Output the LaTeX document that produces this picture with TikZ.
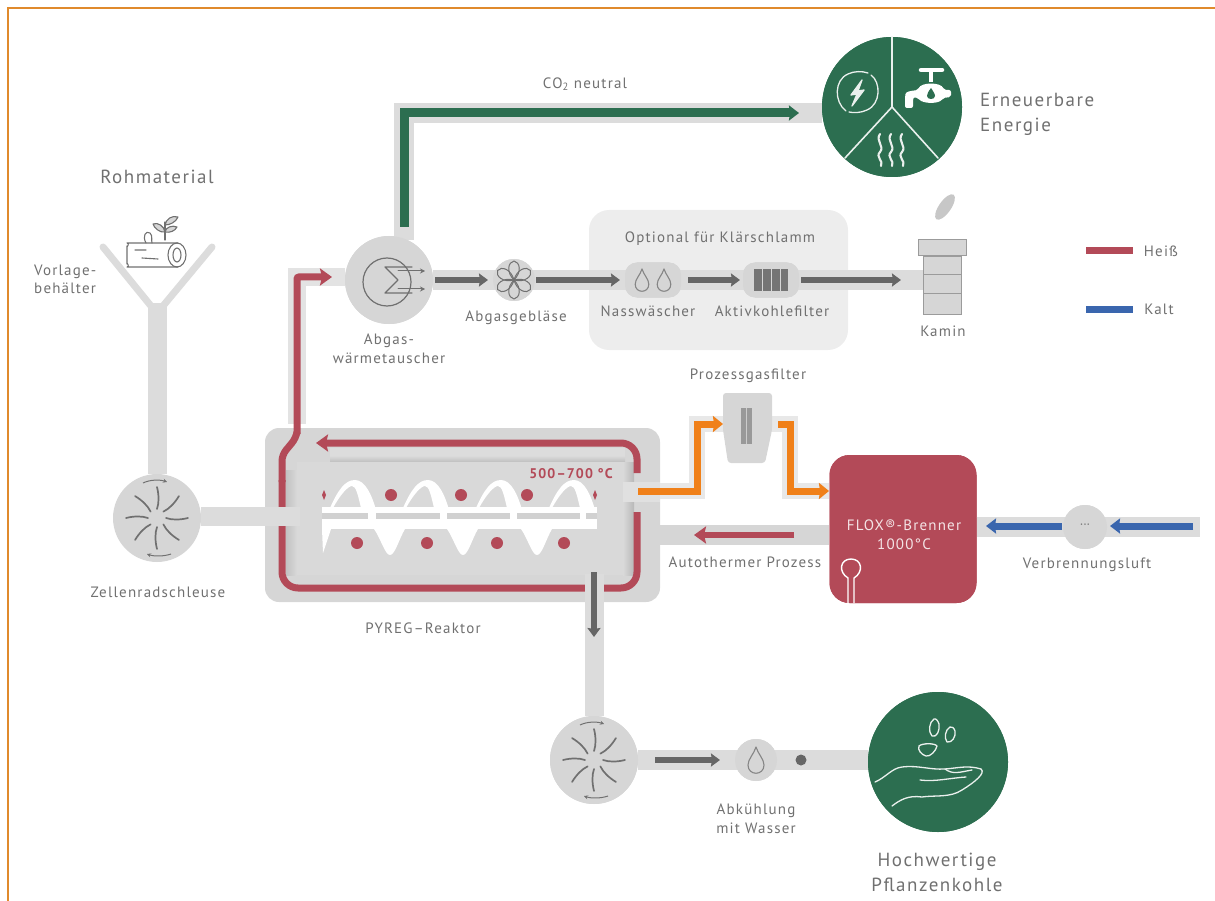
\documentclass[tikz,border=0pt]{standalone}
\usepackage{fontspec}
\setmainfont{PT Sans}
\newfontfamily\spaced[LetterSpace=8]{PT Sans}
\usetikzlibrary{arrows.meta,calc}
\definecolor{pipe}{HTML}{DCDCDC}
\definecolor{disc}{HTML}{D6D6D6}
\definecolor{txt}{HTML}{707070}
\definecolor{darkarrow}{HTML}{666666}
\definecolor{hot}{HTML}{B34A58}
\definecolor{cold}{HTML}{3A66AE}
\definecolor{grn}{HTML}{2C6E50}
\definecolor{orng}{HTML}{F08019}
\definecolor{frame}{HTML}{E08A2C}
\tikzset{
  x=1pt,y=-1pt,
  pipeline/.style={draw=pipe,line width=19pt},
  thinpipe/.style={draw=pipe,line width=20pt},
  flowdark/.style={draw=darkarrow,line width=6pt,-{Stealth[length=9pt,width=13pt,inset=1pt]}},
  flowhot/.style={draw=hot,line width=7pt,rounded corners=16pt,-{Stealth[length=12pt,width=17pt,inset=2pt]}},
  flowhotplain/.style={draw=hot,line width=7pt,rounded corners=16pt},
  flowcold/.style={draw=cold,line width=7pt,-{Stealth[length=10pt,width=15pt,inset=1pt]}},
  flowgreen/.style={draw=grn,line width=9pt,-{Stealth[length=10pt,width=15pt,inset=1pt]}},
  floworange/.style={draw=orng,line width=7pt,-{Stealth[length=10pt,width=16pt,inset=1pt]}},
  bigdisc/.style={circle,fill=disc,minimum size=88pt,inner sep=0pt},
  smalldisc/.style={circle,fill=disc,inner sep=0pt},
  greendisc/.style={circle,fill=grn,minimum size=140pt,inner sep=0pt},
  lbl/.style={text=txt,font=\spaced\fontsize{15}{18.5}\selectfont,align=center,inner sep=0pt},
  biglbl/.style={text=txt,font=\spaced\fontsize{19}{25}\selectfont,align=center,inner sep=0pt},
  whitelbl/.style={text=white!85!hot,font=\spaced\fontsize{15}{19}\selectfont,align=center,inner sep=0pt},
  hotdot/.style={circle,fill=hot,minimum size=12pt,inner sep=0pt},
  icon/.style={draw=txt,line width=1.1pt,line cap=round,line join=round},
  whiteicon/.style={draw=white!90!grn,line width=1.3pt,line cap=round,line join=round},
  gearicon/.pic={
    \foreach \a in {0,45,...,315}{
      \draw[draw=txt,line width=1.7pt,line cap=round]
        ({9*cos(\a)},{9*sin(\a)}) .. controls ({15*cos(\a+8)},{15*sin(\a+8)}) and ({23*cos(\a+5)},{23*sin(\a+5)}) .. ({31*cos(\a)},{31*sin(\a)});
    }
    \draw[draw=txt,line width=1pt,-{Stealth[length=4pt,width=4pt]}] (-14,-35) .. controls (-7,-38.5) and (3,-38.5) .. (10,-36);
    \draw[draw=txt,line width=1pt,-{Stealth[length=4pt,width=4pt]}] (14,36) .. controls (7,38.5) and (-3,38.5) .. (-10,36);
  },
  dropicon/.pic={
    \draw[icon,draw=txt!85] (0,-13) .. controls (-2,-6) and (-8,-1) .. (-8,5) .. controls (-8,16) and (8,16) .. (8,5) .. controls (8,-1) and (2,-6) .. (0,-13) -- cycle;
  },
  toplobe/.pic={
    \fill[white] (-25,28) .. controls (-17,10) and (-10,0) .. (0,0) .. controls (10,0) and (17,15) .. (21,30) -- (6,28) .. controls (3,15) and (1,6) .. (-3,6) .. controls (-7,6) and (-15,15) .. (-22,28) -- cycle;
  },
  bottomlobe/.pic={
    \fill[white] (-16,0) .. controls (-9,10) and (-5,26) .. (0,26) .. controls (5,26) and (9,10) .. (15,0) -- cycle;
  }
}
\begin{document}
\begin{tikzpicture}
\useasboundingbox (0,0) rectangle (1215,901);
% frame
\draw[frame,line width=1.6pt] (8,901) -- (8,8) -- (1215,8);

% optional panel
\node[fill=black!7,rounded corners=20pt,minimum width=259pt,minimum height=140pt,inner sep=0pt] (optional) at (718.5,280) {};

% nodes that carry the layout
\coordinate (funnelL) at (103,247);
\coordinate (funnelR) at (212,247);
\coordinate (funnelBL) at (151,306);
\coordinate (funnelBR) at (163,306);
\node[bigdisc] (lock) at (157,518) {};
\node[bigdisc] (exch) at (389,280) {};
\node[smalldisc,minimum size=42pt] (fan) at (514,280) {};
\node[fill=disc,rounded corners=12pt,minimum width=56pt,minimum height=35pt,inner sep=0pt] (wash) at (653,280) {};
\node[fill=disc,rounded corners=12pt,minimum width=56pt,minimum height=35pt,inner sep=0pt] (carbon) at (771,280) {};
\node[inner sep=0pt,minimum width=48pt,minimum height=16pt,fill=disc,draw=txt!70,line width=1pt] (chimcap) at (942,248) {};
\node[inner sep=0pt,minimum width=38pt,minimum height=58pt,fill=disc,draw=txt!70,line width=1pt,anchor=north] (chimney) at (942,256) {};
\node[greendisc] (energy) at (892,107) {};
\node[bigdisc] (lock2) at (594,760) {};
\node[smalldisc,minimum size=42pt] (cool) at (756,760) {};
\node[greendisc] (biochar) at (938,762) {};
\node[smalldisc,minimum size=44pt] (air) at (1085,527) {};
\node[fill=hot,rounded corners=20pt,minimum width=147pt,minimum height=148pt,inner sep=0pt] (burner) at (903,529) {};
\node[fill=disc,rounded corners=14pt,minimum width=395pt,minimum height=174pt,inner sep=0pt] (reactor) at (462.5,515) {};

% funnel and grey pipes
\coordinate (stemTop) at (157,303);
\draw[pipeline,line width=7pt,line cap=round] (funnelL) -- (funnelBL);
\draw[pipeline,line width=7pt,line cap=round] (funnelR) -- (funnelBR);
\draw[pipeline] (stemTop) -- (lock.north);
\coordinate (chimIn) at (chimney.west |- exch);
\draw[thinpipe] (exch.east) -- (chimIn);
\coordinate (greenCorner) at (404,113);
\coordinate (greenStart) at (404,240);
\coordinate (energyIn) at (energy.west |- greenCorner);
\draw[draw=pipe,line width=20pt] (greenStart) -- (greenCorner) -- (energyIn);

% redraw items above the pipe
\node[smalldisc,minimum size=42pt] at (fan) {};
\node[fill=disc,rounded corners=12pt,minimum width=56pt,minimum height=35pt,inner sep=0pt] at (wash) {};
\node[fill=disc,rounded corners=12pt,minimum width=56pt,minimum height=35pt,inner sep=0pt] at (carbon) {};
\node[bigdisc] at (exch) {};
\node[greendisc] at (energy) {};

% reactor interior
\shade[top color=pipe,bottom color=black!27,middle color=pipe] (330,448) rectangle (625,463);
\fill[black!15] (297,462) rectangle (623,575);
\shade[left color=black!24,right color=black!15] (286,470) rectangle (297,575);
\shade[left color=black!15,right color=black!28] (623,462) rectangle (634,575);

% hot loop
\coordinate (loopA) at (637,473);
\coordinate (loopB) at (637,443);
\coordinate (loopTip) at (316,443);
\coordinate (loopC) at (637,512);
\coordinate (loopD) at (637,588);
\coordinate (loopE) at (282,588);
\coordinate (loopF) at (282,455);
\coordinate (loopG) at (296,438);
\draw[flowhot] (loopA) -- (loopB) -- (loopTip);
\draw[flowhotplain] (loopC) -- (loopD) -- (loopE) -- (282,480);
\draw[draw=black!11,line width=18pt] (297,424) -- (297,277) -- (exch.west |- 0,277);
\draw[draw=hot,line width=7pt,line join=round,rounded corners=6pt] (282,482) -- (loopF) -- (loopG) -- (297,432);
\draw[flowhot,rounded corners=2pt] (297,434) -- (297,277) -- (332,277);

% inlet, outlet, exits through the reactor wall
\draw[pipeline] (lock.east |- 0,516) -- (300,516);
\fill[black!12] (623,482) rectangle (660,502);
\fill[disc] (660,525) rectangle (829,545);
\draw[pipeline] (594,574) -- (lock2.north);

% screw
\fill[white] (322,507) rectangle (597,529);
\foreach \lx in {355,428,501,574}{\pic at (\lx,480) {toplobe};}
\foreach \lx in {390,463,537}{\pic at (\lx,529) {bottomlobe};}
\fill[white] (322,529) -- (323,553) -- (331,529) -- cycle;
\fill[black!18] (322,513) rectangle (597,519);
\foreach \xa/\xb in {368/376,440/447,510/517,580/586}{\fill[white] (\xa,511) rectangle (\xb,521);}
\node[hotdot] (dotA) at (391,495) {};
\node[hotdot] (dotB) at (461,495) {};
\node[hotdot] (dotC) at (527,495) {};
\node[hotdot] (dotD) at (357,543) {};
\node[hotdot] (dotE) at (427,543) {};
\node[hotdot] (dotF) at (497,543) {};
\node[hotdot] (dotG) at (564,543) {};
\fill[hot] (324,490) -- (326,495) -- (324,500) -- (322,495) -- cycle;
\fill[hot] (595,490) -- (597,495) -- (595,500) -- (593,495) -- cycle;
\node[text=hot,font=\spaced\fontsize{14}{15}\bfseries\selectfont,inner sep=0pt] (temp) at (571,474) {500–700 °C};

% dark flows on the top line
\coordinate (a1) at (435,280); \coordinate (a2) at (488,280);
\coordinate (a3) at (536,280); \coordinate (a4) at (620,280);
\coordinate (a5) at (688,280); \coordinate (a6) at (740,280);
\coordinate (a7) at (801,280); \coordinate (a8) at (901,280);
\draw[flowdark] (a1) -- (a2);
\draw[flowdark] (a3) -- (a4);
\draw[flowdark] (a5) -- (a6);
\draw[flowdark] (a7) -- (a8);
\node[inner sep=0pt,minimum width=48pt,minimum height=16pt,fill=disc,draw=txt!70,line width=1pt] at (chimcap) {};
\node[inner sep=0pt,minimum width=38pt,minimum height=58pt,fill=disc,draw=txt!70,line width=1pt] at (chimney.center) {};
\draw[draw=txt!70,line width=1pt] (923,275) -- (961,275) (923,294) -- (961,294);
\fill[black!22,rotate around={55:(945,207)}] (945,207) ellipse[x radius=15,y radius=6];

% green flow
\coordinate (greenTip) at (799,113);
\draw[flowgreen,line join=miter] (404,227) -- (greenCorner) -- (greenTip);

% orange flows through the process gas filter
\coordinate (o1) at (638,491); \coordinate (o2) at (697,491); \coordinate (o3) at (697,424); \coordinate (o4) at (723,424);
\coordinate (o5) at (778,424); \coordinate (o6) at (790,424); \coordinate (o7) at (790,491); \coordinate (o8) at (829,491);
\draw[draw=black!9,line width=16pt,line join=miter] (660,491) -- (o2) -- (o3) -- (725,424);
\draw[draw=black!9,line width=16pt,line join=miter] (770,424) -- (o6) -- (o7) -- (o8);
\fill[disc,rounded corners=3pt] (723,393) -- (772,393) -- (772,430) -- (765,463) -- (728,463) -- (723,430) -- cycle;
\fill[black!40] (741,408) rectangle (752,444);
\draw[black!20,line width=.8pt] (746.5,408) -- (746.5,444);
\draw[floworange,line join=miter] (o1) -- (o2) -- (o3) -- (o4);
\draw[floworange,line join=miter] (o5) -- (o6) -- (o7) -- (o8);

% hot return
\coordinate (r1) at (794,535); \coordinate (r2) at (694,535);
\draw[flowhot,line width=6pt] (r1) -- (r2);

% burner redrawn above pipes, icon and label
\node[fill=hot,rounded corners=20pt,minimum width=147pt,minimum height=148pt,inner sep=0pt] at (burner) {};
\node[whitelbl] (burnerlabel) at (904,535) {FLOX®-Brenner\\1000°C};
\draw[draw=white,line width=1.4pt] (848,603) -- (848,578) .. controls (838,572) and (840,559) .. (851,559) .. controls (862,559) and (864,572) .. (854,578) -- (854,603);

% cold air
\draw[thinpipe] (burner.east |- air) -- (1200,527);
\node[smalldisc,minimum size=44pt] at (air) {};
\coordinate (c1) at (1193,526); \coordinate (c2) at (1110,526);
\coordinate (c3) at (1062,526); \coordinate (c4) at (986,526);
\draw[flowcold] (c1) -- (c2);
\draw[flowcold] (c3) -- (c4);
\node[text=txt,inner sep=0pt,font=\fontsize{13}{13}\selectfont] (airdots) at (1085,526) {···};

% bottom line
\draw[thinpipe] (lock2.east) -- (biochar.west |- lock2);
\node[smalldisc,minimum size=42pt] at (cool) {};
\node[bigdisc] at (lock2) {};
\node[greendisc] at (biochar) {};
\coordinate (d1) at (594,572); \coordinate (d2) at (594,637);
\draw[flowdark] (d1) -- (d2);
\coordinate (d3) at (655,760); \coordinate (d4) at (720,760);
\draw[flowdark] (d3) -- (d4);
\node[circle,fill=darkarrow,minimum size=11pt,inner sep=0pt] (stopdot) at (801,760) {};

% icons
\pic at (lock) {gearicon};
\pic at (lock2) {gearicon};
\pic at (cool) {dropicon};
\pic[scale=.85] at (642,280) {dropicon};
\pic[scale=.85] at (664,280) {dropicon};
\fill[darkarrow!90] (754,269) rectangle (788,291);
\foreach \gx in {762,771,780}{\draw[disc,line width=.7pt] (\gx,269) -- (\gx,291);}
\foreach \a in {0,60,...,300}{
  \draw[icon,line width=1pt,rotate around={\a:(514,280)}] (514,280) .. controls (506,272) and (508,262) .. (514,261) .. controls (520,262) and (522,272) .. (514,280);
}
% heat exchanger icon
\draw[icon,line width=1.2pt] (387,282) circle[radius=24];
\draw[icon,line width=1.2pt] (412,267) -- (385,267) -- (398,280) -- (385,293) -- (412,293);
\draw[icon,line width=1pt,-{Stealth[length=5pt,width=5pt]}] (398,271) -- (425,271);
\draw[icon,line width=1pt,-{Stealth[length=5pt,width=5pt]}] (398,289) -- (425,289);

% log icon
\draw[icon,rounded corners=9pt] (178,243) -- (136,243) .. controls (130,243) and (127,248) .. (127,255) .. controls (127,262) and (130,267) .. (136,267) -- (178,267);
\draw[icon] (177,255) ellipse[x radius=9,y radius=12];
\draw[icon] (177,255) ellipse[x radius=4,y radius=7];
\draw[icon] (135,250) -- (146,250) (142,258) -- (158,259);
\draw[icon] (146,243) .. controls (142,236) and (146,230) .. (150,233) .. controls (153,236) and (151,240) .. (152,243);
\draw[icon] (165,240) -- (165,222);
\draw[icon,fill=disc] (165,232) .. controls (160,233) and (154,228) .. (153,224) .. controls (158,222) and (164,226) .. (165,232);
\draw[icon,fill=disc] (165,225) .. controls (170,225) and (176,222) .. (178,217) .. controls (172,215) and (166,219) .. (165,225);
\draw[icon,fill=disc] (165,232) .. controls (170,233) and (175,231) .. (177,227) .. controls (172,225) and (166,227) .. (165,232);

% energy disc
\draw[whiteicon,line width=1.6pt] (energy.center) -- (892,37);
\draw[whiteicon,line width=1.6pt] (energy.center) -- (845,158);
\draw[whiteicon,line width=1.6pt] (energy.center) -- (938,158);
\draw[whiteicon] (846,111) .. controls (834,102) and (834,80) .. (848,74) .. controls (854,71) and (862,71) .. (868,73);
\draw[whiteicon] (871,75) .. controls (881,82) and (881,104) .. (867,110) .. controls (861,113) and (853,113) .. (849,112);
\draw[whiteicon,fill=white!90!grn] (862,80) -- (851,95) -- (857,94) -- (852,106) -- (864,90) -- (858,91) -- cycle;
\draw[white,line width=4.5pt,line cap=round] (921,70) -- (942,70);
\draw[white,line width=3.5pt] (931,70) -- (931,82);
\fill[white,rounded corners=2pt] (905,108) -- (905,96) .. controls (906,92) and (909,91) .. (918,90) .. controls (921,82) and (941,82) .. (944,90) -- (951,90) -- (951,97) -- (943,98) .. controls (939,104) and (923,104) .. (918,98) .. controls (914,97) and (913,98) .. (913,102) -- (913,108) -- cycle;
\fill[grn] (931,88) .. controls (928,92) and (927,94) .. (927,96) .. controls (927,100) and (935,100) .. (935,96) .. controls (935,94) and (933,91) .. (931,88) -- cycle;
\foreach \wx in {880,891,902}{
  \draw[whiteicon,line width=2.1pt] (\wx,134) .. controls (\wx-5,141) and (\wx+5,146) .. (\wx,152) .. controls (\wx-5,157) and (\wx+4,161) .. (\wx+1,166);
}

% biochar disc
\draw[whiteicon] (934,719) .. controls (929,722) and (928,732) .. (932,736) .. controls (937,738) and (940,730) .. (939,724) .. controls (938,721) and (936,718) .. (934,719) -- cycle;
\draw[whiteicon] (950,727) .. controls (945,730) and (944,738) .. (947,742) .. controls (952,743) and (956,737) .. (955,731) .. controls (954,728) and (952,726) .. (950,727) -- cycle;
\draw[whiteicon] (919,746) .. controls (922,743) and (935,743) .. (937,746) .. controls (936,751) and (930,757) .. (926,756) .. controls (922,755) and (917,750) .. (919,746) -- cycle;
\draw[whiteicon] (875,782) .. controls (885,778) and (892,768) .. (902,767) .. controls (918,765) and (930,770) .. (945,769) .. controls (958,768) and (968,765) .. (981,769);
\draw[whiteicon] (981,769) .. controls (986,773) and (975,782) .. (962,790) .. controls (950,798) and (935,795) .. (922,797) .. controls (908,795) and (900,800) .. (892,806);
\draw[whiteicon] (920,780) .. controls (935,782) and (950,778) .. (966,777);
\draw[whiteicon] (945,769) .. controls (953,775) and (960,772) .. (972,770);

% labels
\node[lbl] (lrem) at (585,84) {CO\textsubscript{2} neutral};
\node[biglbl,align=left,anchor=west] (lenergy) at (980,114) {Erneuerbare\\Energie};
\node[biglbl] (lraw) at (157,177) {Rohmaterial};
\node[lbl,align=left,anchor=west] (lhopper) at (34,279.5) {Vorlage-\\behälter};
\node[lbl] (lexch) at (389,349) {Abgas-\\wärmetauscher};
\node[lbl] (lfan) at (516,318) {Abgasgebläse};
\node[lbl] (lopt) at (720,239) {Optional für Klärschlamm};
\node[lbl] (lwash) at (648,311) {Nasswäscher};
\node[lbl] (lcarb) at (772,311) {Aktivkohlefilter};
\node[lbl] (lchim) at (943,331) {Kamin};
\node[lbl] (lheat) at (1161,251) {Heiß};
\node[lbl] (lcold) at (1159,309) {Kalt};
\node[lbl] (lpf) at (748,376) {Prozessgasfilter};
\node[lbl] (lauto) at (745,562) {Autothermer Prozess};
\node[lbl] (lair) at (1087,565) {Verbrennungsluft};
\node[lbl] (llock) at (158,592) {Zellenradschleuse};
\node[lbl] (lreact) at (423,628) {PYREG–Reaktor};
\node[lbl] (lcool) at (756,819) {Abkühlung\\mit Wasser};
\node[biglbl] (lchar) at (937,872) {Hochwertige\\Pflanzenkohle};

% legend
\coordinate (h1) at (1086,251); \coordinate (h2) at (1133,251);
\coordinate (k1) at (1086,309); \coordinate (k2) at (1133,309);
\draw[draw=hot,line width=7pt] (h1) -- (h2);
\draw[draw=cold,line width=7pt] (k1) -- (k2);
\end{tikzpicture}
\end{document}
